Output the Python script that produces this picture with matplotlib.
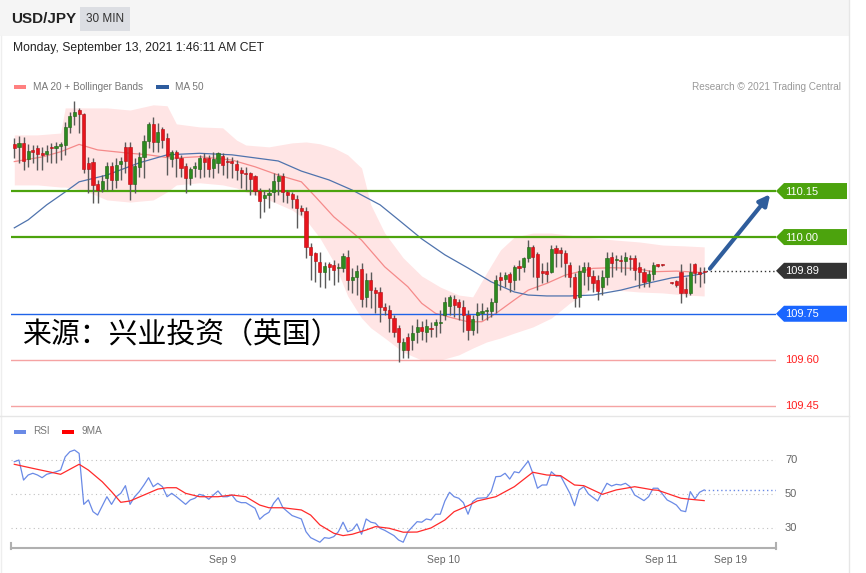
import numpy as np
import matplotlib.pyplot as plt
from matplotlib.patches import Polygon, Rectangle, FancyArrowPatch

plt.rcParams['font.family'] = ['Liberation Sans', 'DejaVu Sans']

# USD/JPY 30 min bars (index 0 = first bar on the left)
opens = [110.304, 110.294, 110.307, 110.255, 110.284, 110.291, 110.274, 110.271, 110.294, 110.291,
         110.297, 110.300, 110.359, 110.395, 110.414, 110.401, 110.242, 110.245, 110.173, 110.157,
         110.193, 110.232, 110.186, 110.238, 110.294, 110.294, 110.173, 110.229, 110.261, 110.313,
         110.369, 110.310, 110.352, 110.323, 110.255, 110.278, 110.258, 110.232, 110.193, 110.225,
         110.222, 110.258, 110.258, 110.225, 110.241, 110.264, 110.248, 110.248, 110.238, 110.219,
         110.209, 110.209, 110.199, 110.150, 110.127, 110.137, 110.147, 110.183, 110.199, 110.147,
         110.140, 110.124, 110.095, 110.085, 109.968, 109.948, 109.919, 109.886, 109.912, 109.909,
         109.899, 109.899, 109.935, 109.860, 109.870, 109.896, 109.805, 109.860, 109.827, 109.821,
         109.772, 109.762, 109.736, 109.704, 109.632, 109.674, 109.664, 109.691, 109.707, 109.691,
         109.704, 109.713, 109.719, 109.746, 109.775, 109.798, 109.788, 109.772, 109.746, 109.697,
         109.746, 109.753, 109.759, 109.759, 109.788, 109.870, 109.863, 109.880, 109.860, 109.906,
         109.903, 109.932, 109.968, 109.945, 109.890, 109.890, 109.886, 109.964, 109.958, 109.948,
         109.909, 109.870, 109.805, 109.886, 109.903, 109.873, 109.860, 109.837, 109.870, 109.935,
         109.925, 109.925, 109.922, 109.932, 109.932, 109.903, 109.886, 109.857, 109.880, 109.909,
         109.909, np.nan, 109.851, 109.857, 109.887, 109.830, 109.817, 109.912, 109.883, 109.888]
highs = [110.323, 110.329, 110.326, 110.304, 110.300, 110.300, 110.294, 110.300, 110.307, 110.310,
         110.310, 110.375, 110.408, 110.444, 110.421, 110.405, 110.261, 110.258, 110.186, 110.202,
         110.245, 110.245, 110.258, 110.261, 110.310, 110.310, 110.258, 110.278, 110.333, 110.375,
         110.392, 110.372, 110.359, 110.339, 110.284, 110.284, 110.268, 110.242, 110.229, 110.245,
         110.268, 110.274, 110.268, 110.278, 110.278, 110.274, 110.261, 110.261, 110.251, 110.229,
         110.229, 110.212, 110.202, 110.160, 110.153, 110.160, 110.209, 110.209, 110.209, 110.153,
         110.147, 110.137, 110.105, 110.098, 109.981, 109.951, 109.951, 109.919, 109.919, 109.925,
         109.916, 109.948, 109.958, 109.899, 109.909, 109.916, 109.883, 109.886, 109.837, 109.837,
         109.785, 109.779, 109.746, 109.713, 109.671, 109.687, 109.713, 109.733, 109.727, 109.733,
         109.723, 109.733, 109.762, 109.805, 109.811, 109.811, 109.798, 109.795, 109.762, 109.746,
         109.785, 109.785, 109.772, 109.802, 109.876, 109.886, 109.886, 109.886, 109.909, 109.925,
         109.935, 109.990, 109.974, 109.951, 109.916, 109.919, 109.974, 109.974, 109.968, 109.958,
         109.919, 109.883, 109.909, 109.919, 109.919, 109.893, 109.876, 109.893, 109.951, 109.951,
         109.942, 109.942, 109.951, 109.942, 109.942, 109.919, 109.899, 109.893, 109.919, 109.912,
         109.911, np.nan, 109.853, 109.860, 109.912, 109.870, 109.914, 109.915, 109.904, 109.904]
lows = [110.258, 110.241, 110.219, 110.229, 110.241, 110.219, 110.219, 110.245, 110.241, 110.241,
        110.251, 110.268, 110.339, 110.365, 110.339, 110.209, 110.144, 110.111, 110.111, 110.147,
        110.153, 110.153, 110.160, 110.186, 110.209, 110.121, 110.144, 110.196, 110.193, 110.291,
        110.278, 110.278, 110.291, 110.202, 110.229, 110.196, 110.196, 110.144, 110.170, 110.196,
        110.193, 110.196, 110.196, 110.193, 110.209, 110.202, 110.193, 110.193, 110.186, 110.160,
        110.153, 110.137, 110.137, 110.062, 110.082, 110.095, 110.114, 110.137, 110.114, 110.111,
        110.095, 110.030, 110.072, 109.932, 109.860, 109.854, 109.837, 109.834, 109.860, 109.844,
        109.854, 109.886, 109.827, 109.818, 109.811, 109.772, 109.772, 109.769, 109.753, 109.723,
        109.746, 109.691, 109.674, 109.593, 109.606, 109.606, 109.632, 109.655, 109.664, 109.658,
        109.674, 109.674, 109.687, 109.730, 109.746, 109.740, 109.730, 109.691, 109.664, 109.681,
        109.687, 109.730, 109.730, 109.740, 109.753, 109.827, 109.837, 109.821, 109.827, 109.860,
        109.886, 109.919, 109.870, 109.827, 109.850, 109.854, 109.883, 109.903, 109.903, 109.870,
        109.837, 109.772, 109.772, 109.844, 109.827, 109.821, 109.795, 109.811, 109.844, 109.870,
        109.893, 109.886, 109.876, 109.893, 109.860, 109.834, 109.837, 109.837, 109.860, 109.903,
        109.907, np.nan, 109.847, 109.837, 109.785, 109.803, 109.811, 109.850, 109.838, 109.850]
closes = [110.291, 110.307, 110.248, 110.281, 110.278, 110.271, 110.268, 110.281, 110.291, 110.297,
          110.304, 110.359, 110.395, 110.408, 110.401, 110.222, 110.222, 110.170, 110.153, 110.183,
          110.232, 110.186, 110.235, 110.248, 110.248, 110.173, 110.232, 110.261, 110.313, 110.369,
          110.310, 110.343, 110.316, 110.264, 110.278, 110.258, 110.225, 110.193, 110.222, 110.232,
          110.258, 110.245, 110.222, 110.255, 110.274, 110.235, 110.245, 110.241, 110.219, 110.209,
          110.206, 110.189, 110.150, 110.118, 110.137, 110.144, 110.183, 110.199, 110.147, 110.137,
          110.124, 110.095, 110.085, 109.968, 109.942, 109.922, 109.886, 109.906, 109.903, 109.893,
          109.903, 109.938, 109.860, 109.870, 109.890, 109.798, 109.860, 109.827, 109.818, 109.772,
          109.762, 109.736, 109.691, 109.658, 109.658, 109.632, 109.687, 109.707, 109.694, 109.710,
          109.700, 109.723, 109.721, 109.788, 109.805, 109.779, 109.772, 109.746, 109.697, 109.733,
          109.756, 109.759, 109.762, 109.788, 109.860, 109.860, 109.876, 109.854, 109.903, 109.899,
          109.932, 109.968, 109.935, 109.870, 109.883, 109.880, 109.961, 109.948, 109.948, 109.916,
          109.870, 109.802, 109.890, 109.903, 109.873, 109.850, 109.824, 109.870, 109.932, 109.916,
          109.929, 109.922, 109.935, 109.929, 109.893, 109.886, 109.854, 109.880, 109.909, 109.907,
          109.908, np.nan, 109.849, 109.844, 109.817, 109.817, 109.887, 109.882, 109.881, 109.886]

# indicator lines, read at sample bars
ma20_idx = [0, 6, 10, 14, 18, 25, 29, 34, 40, 47, 52, 57, 62, 65, 69, 75, 80, 85, 88, 91, 95, 98,
            101, 104, 108, 111, 115, 119, 125, 129, 134, 138, 143, 148]
ma20_val = [110.246, 110.261, 110.278, 110.302, 110.284, 110.273, 110.268, 110.257, 110.262, 110.251,
            110.229, 110.202, 110.180, 110.132, 110.066, 109.990, 109.903, 109.838, 109.784, 109.751,
            109.735, 109.724, 109.724, 109.751, 109.795, 109.827, 109.849, 109.876, 109.898, 109.900,
            109.898, 109.887, 109.889, 109.885]
ma50_idx = [0, 3, 7, 11, 14, 20, 27, 33, 40, 47, 52, 57, 62, 68, 73, 79, 83, 88, 93, 98, 103, 108,
            111, 115, 120, 125, 131, 137, 142, 147, 149]
ma50_val = [110.030, 110.056, 110.105, 110.147, 110.180, 110.202, 110.242, 110.268, 110.273, 110.268,
            110.258, 110.248, 110.215, 110.186, 110.153, 110.105, 110.056, 109.994, 109.942, 109.899,
            109.854, 109.821, 109.811, 109.808, 109.808, 109.811, 109.827, 109.850, 109.867, 109.876,
            109.883]
bb_idx = [0, 5, 10, 11, 15, 20, 25, 30, 33, 35, 40, 45, 48, 50, 55, 60, 63, 66, 69, 72, 75, 77,
          80, 84, 88, 92, 96, 99, 102, 105, 108, 112, 116, 120, 125, 130, 135, 140, 145, 149]
bb_upper = [110.333, 110.333, 110.339, 110.421, 110.421, 110.421, 110.414, 110.431, 110.428, 110.369,
            110.359, 110.356, 110.316, 110.300, 110.294, 110.307, 110.310, 110.304, 110.291, 110.268,
            110.225, 110.105, 110.013, 109.932, 109.873, 109.837, 109.811, 109.805, 109.883, 109.958,
            110.000, 110.013, 110.013, 110.006, 109.997, 109.990, 109.984, 109.974, 109.971, 109.968]
bb_lower = [110.170, 110.170, 110.163, 110.163, 110.153, 110.121, 110.114, 110.121, 110.147, 110.170,
            110.177, 110.170, 110.160, 110.147, 110.121, 110.088, 110.056, 109.997, 109.919, 109.808,
            109.736, 109.704, 109.671, 109.625, 109.599, 109.599, 109.616, 109.638, 109.658, 109.671,
            109.687, 109.707, 109.736, 109.785, 109.834, 109.827, 109.821, 109.818, 109.811, 109.808]

# RSI panel
rsi_idx = [0, 1, 2, 3, 4, 5, 6, 7, 9, 10, 11, 12, 13, 14, 15, 16, 17, 18, 20, 21, 22, 23, 24, 25, 26,
           27, 28, 29, 30, 31, 32, 33, 34, 35, 37, 38, 39, 40, 41, 42, 43, 44, 45, 46, 47, 48, 49, 50,
           52, 53, 54, 55, 56, 57, 58, 59, 60, 62, 63, 64, 66, 67, 68, 69, 70, 71, 72, 73, 74, 75, 76,
           77, 78, 79, 80, 82, 83, 84, 85, 87, 88, 89, 90, 91, 92, 93, 94, 95, 96, 97, 98, 99, 100,
           102, 103, 104, 105, 106, 107, 108, 109, 111, 112, 113, 114, 115, 116, 117, 118, 120, 121,
           122, 123, 124, 126, 127, 128, 129, 130, 131, 132, 133, 134, 136, 137, 138, 139, 141, 142,
           143, 144, 145, 146, 147, 148, 149]
rsi_val = [69.0, 70.0, 58.2, 61.2, 62.2, 61.2, 59.6, 61.6, 63.1, 64.1, 71.9, 74.9, 75.9, 73.9, 43.9,
           46.5, 39.6, 37.6, 48.4, 43.9, 48.4, 50.4, 54.9, 43.9, 48.4, 51.4, 55.3, 59.6, 54.3, 56.3,
           54.3, 48.4, 50.4, 48.4, 43.9, 46.5, 47.5, 49.8, 49.0, 46.9, 49.4, 51.8, 48.4, 48.4, 49.4,
           45.9, 44.9, 44.9, 41.6, 35.1, 37.6, 39.2, 44.5, 47.8, 42.0, 39.6, 37.3, 35.3, 27.8, 24.3,
           21.6, 24.3, 23.9, 24.9, 27.8, 33.4, 27.8, 28.8, 32.4, 26.3, 35.3, 33.4, 32.8, 29.8, 28.6,
           25.5, 22.9, 21.6, 27.8, 33.7, 33.4, 35.3, 34.7, 38.1, 38.1, 45.9, 51.0, 48.4, 47.5, 44.9,
           38.1, 45.5, 47.5, 47.8, 51.4, 60.2, 60.4, 62.2, 58.8, 63.1, 62.5, 69.4, 62.2, 53.4, 55.3,
           55.3, 63.1, 60.6, 60.6, 50.4, 43.1, 52.4, 54.3, 50.0, 45.9, 51.4, 56.3, 54.7, 55.7, 55.3,
           56.3, 54.3, 49.4, 46.1, 48.4, 53.4, 53.4, 46.5, 45.1, 43.5, 40.2, 39.6, 51.4, 47.1, 51.0,
           52.4]
rsi_ma_idx = [0, 4, 10, 14, 16, 19, 21, 23, 25, 28, 31, 33, 35, 37, 40, 44, 47, 50, 53, 55, 58, 62,
              64, 66, 69, 71, 73, 76, 78, 81, 84, 87, 90, 93, 95, 98, 100, 104, 108, 112, 115, 118,
              121, 123, 127, 130, 134, 138, 139, 144, 146, 149]
rsi_ma_val = [67.5, 65.1, 61.6, 67.5, 64.1, 57.2, 51.4, 45.1, 45.9, 49.4, 52.9, 53.7, 53.7, 50.4,
              48.4, 48.4, 49.4, 48.4, 43.5, 41.9, 41.9, 40.6, 37.6, 31.8, 26.9, 25.5, 26.3, 28.8,
              30.8, 29.8, 27.5, 27.6, 30.0, 34.7, 39.6, 43.1, 45.9, 48.4, 54.3, 62.8, 61.2, 60.8,
              55.3, 54.9, 49.8, 52.4, 54.3, 52.4, 52.2, 47.5, 46.9, 46.1]
rsi_levels = [70, 50, 30]

# key levels from the analysis
levels = [110.15, 110.00, 109.89, 109.75, 109.60, 109.45]
level_labels = ['110.15', '110.00', '109.89', '109.75', '109.60', '109.45']
current_price = 109.89
target_price = 110.15

date_labels = ['Sep 9', 'Sep 10', 'Sep 11', 'Sep 19']
date_pos = [44.9, 92.8, 139.7, 154.6]

W, H = 866, 573
fig = plt.figure(figsize=(W / 100, H / 100), dpi=100)
fig.patch.set_facecolor('white')

X0, X1 = 11, 776           # plot area in pixels
step, first_x = 4.63, 14.3  # bar spacing / x of bar 0
xlim = ((X0 - first_x) / step, (X1 - first_x) / step)


def px_axes(left, top, right, bottom):
    return fig.add_axes([left / W, 1 - bottom / H, (right - left) / W, (bottom - top) / H])


ov = fig.add_axes([0, 0, 1, 1], zorder=0)
ov.set_xlim(0, W)
ov.set_ylim(H, 0)
ov.axis('off')

ax = px_axes(X0, 95, X1, 415)
ax.set_xlim(*xlim)
ax.set_ylim(109.420, 110.463)
ax.axis('off')
ax.patch.set_alpha(0)

rs = px_axes(X0, 440, X1, 548)
rs.set_xlim(*xlim)
rs.set_ylim(18.2, 81.8)
rs.patch.set_alpha(0)
for s in ['top', 'left', 'right']:
    rs.spines[s].set_visible(False)
rs.spines['bottom'].set_color('#b0b0b0')
rs.spines['bottom'].set_linewidth(1.5)
rs.set_yticks([])
rs.set_xticks(date_pos)
rs.set_xticklabels(date_labels, fontsize=7.5, color='#666666')
rs.tick_params(axis='x', length=0, pad=5)


def ypx(axis, v):
    return ov.transData.inverted().transform(axis.transData.transform((0, v)))[1]


def xpx(axis, i):
    return ov.transData.inverted().transform(axis.transData.transform((i, 0)))[0]


# header / frame
ov.add_patch(Rectangle((0, 0), 849, 36, fc='#f5f5f5', ec='none'))
ov.plot([849, 849], [0, H], color='#e6e6e6', lw=1)
ov.plot([0.5, 0.5], [36, H], color='#eeeeee', lw=1)
ov.text(11, 19, 'USD/JPY', fontsize=11, fontweight='bold', color='#222222', va='center')
ov.add_patch(Rectangle((80, 7), 50, 24, fc='#dcdee3', ec='none'))
ov.text(105, 19, '30 MIN', fontsize=8.5, color='#333333', va='center', ha='center')
ov.text(13, 48, 'Monday, September 13, 2021 1:46:11 AM CET', fontsize=8.7, color='#222222', va='center')
ov.add_patch(Rectangle((14, 84.5), 12, 4, fc='#ff8080', ec='none'))
ov.text(33, 86.5, 'MA 20 + Bollinger Bands', fontsize=7.2, color='#777777', va='center')
ov.add_patch(Rectangle((156, 84.5), 13, 4, fc='#2e5c9e', ec='none'))
ov.text(175, 86.5, 'MA 50', fontsize=7.2, color='#777777', va='center')
ov.text(841, 86.5, 'Research \u00a9 2021 Trading Central', fontsize=7.2, color='#999999',
        va='center', ha='right')
ov.plot([0, 849], [416, 416], color='#e6e6e6', lw=1)
ov.add_patch(Rectangle((14, 429.5), 12, 4, fc='#6a8ae6', ec='none'))
ov.text(33, 431.5, 'RSI', fontsize=7.2, color='#777777', va='center')
ov.add_patch(Rectangle((62, 429.5), 12, 4, fc='#ff0000', ec='none'))
ov.text(82, 431.5, '9MA', fontsize=7.2, color='#777777', va='center')
ov.plot([X0, X0], [543, 549], color='#b0b0b0', lw=1.5)
ov.plot([X1, X1], [543, 549], color='#b0b0b0', lw=1.5)

# bollinger band + moving averages
ax.fill_between(bb_idx, bb_lower, bb_upper, color='#ffe5e5', lw=0, zorder=1)
ax.plot(ma20_idx, ma20_val, color='#f58a8a', lw=0.9, zorder=2)
ax.plot(ma50_idx, ma50_val, color='#4f73ad', lw=0.9, zorder=2)

# level lines
lvl_color = {110.15: '#4ca30d', 110.00: '#4ca30d', 109.75: '#1f63e8', 109.60: '#f5a3a3', 109.45: '#f5a3a3'}
lvl_width = {110.15: 1.6, 110.00: 1.6, 109.75: 1.0, 109.60: 1.0, 109.45: 1.0}
for lv in levels:
    if lv in lvl_color:
        ax.axhline(lv, color=lvl_color[lv], lw=lvl_width[lv], zorder=2.5)

# candles
idx = np.arange(len(closes))
o = np.array(opens)
c = np.array(closes)
hi = np.array(highs)
lo = np.array(lows)
ok = ~np.isnan(c)
up = ok & (c >= o)
dn = ok & (c < o)
ax.vlines(idx[ok], lo[ok], hi[ok], color='#5a5a5a', lw=1.0, zorder=3)
bot = np.minimum(o, c)
hgt = np.maximum(np.abs(c - o), 0.004)
ax.bar(idx[up], hgt[up], bottom=bot[up], width=0.68, color='#2d8a1f', edgecolor='#1f5f15',
       lw=0.4, zorder=4)
ax.bar(idx[dn], hgt[dn], bottom=bot[dn], width=0.68, color='#e8141c', edgecolor='#b00e14',
       lw=0.4, zorder=4)

# dotted line from the last bar to the price tag
last_i = idx[ok][-1]
ax.plot([last_i + 0.5, xlim[1]], [current_price, current_price], color='#333333', lw=1,
        ls=(0, (1, 2)), zorder=3)

# price tags on the right
tag_style = {110.15: '#4ca30d', 110.00: '#4ca30d', 109.89: '#333333', 109.75: '#1a66ff'}
for lv, lab in zip(levels, level_labels):
    y = ypx(ax, lv)
    if lv in tag_style:
        pts = [(776, y), (784, y - 8), (847, y - 8), (847, y + 8), (784, y + 8)]
        ov.add_patch(Polygon(pts, closed=True, fc=tag_style[lv], ec='none', zorder=5))
        ov.text(785, y + 0.5, lab, fontsize=8, color='white', va='center', zorder=6)
    else:
        ov.text(785, y + 0.5, lab, fontsize=8, color='#ff2020', va='center')

# arrow to target
arr = FancyArrowPatch((xpx(ax, last_i) + 4, ypx(ax, current_price)), (772, ypx(ax, target_price) + 1),
                      arrowstyle='-|>', mutation_scale=16, color='#2f5d9c', lw=3, zorder=6)
ov.add_patch(arr)

# watermark
ov.text(22, 335, '来源：兴业投资（英国）', fontsize=20.8, color='black', va='center',
        family=['Noto Sans CJK SC', 'DejaVu Sans'], zorder=7)

# RSI panel
for lv in rsi_levels:
    rs.axhline(lv, color='#c0c0c0', lw=0.8, ls=(0, (1, 3)))
    ov.text(785, ypx(rs, lv), str(lv), fontsize=8, color='#666666', va='center')
rs.plot(rsi_idx, rsi_val, color='#6a8ae6', lw=0.9)
rs.plot(rsi_ma_idx, rsi_ma_val, color='#ff2a2a', lw=0.9)
rs.plot([rsi_idx[-1], xlim[1]], [rsi_val[-1], rsi_val[-1]], color='#6a8ae6', lw=1, ls=(0, (1, 2)))

fig.savefig('out.png', dpi=100)
